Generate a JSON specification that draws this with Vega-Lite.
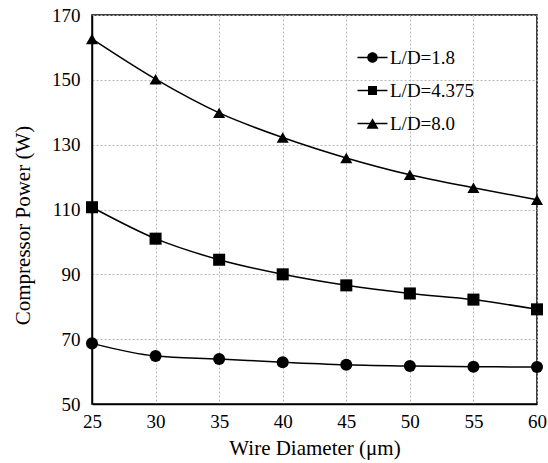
{
  "$schema": "https://vega.github.io/schema/vega-lite/v6.json",
  "width": 445,
  "height": 389,
  "autosize": "none",
  "padding": {"left": 92, "top": 15, "right": 11, "bottom": 59},
  "background": "white",
  "config": {
    "view": {"stroke": "black", "strokeWidth": 1.5},
    "font": "Liberation Serif, DejaVu Serif, serif",
    "axis": {
      "labelFont": "Liberation Serif, DejaVu Serif, serif",
      "titleFont": "Liberation Serif, DejaVu Serif, serif",
      "labelFontSize": 19,
      "titleFontSize": 21,
      "titleFontWeight": "normal",
      "labelColor": "black",
      "titleColor": "black",
      "domainColor": "black",
      "domainWidth": 1.5,
      "ticks": false,
      "labelFlush": false,
      "gridColor": "#b8b8b8",
      "gridDash": [2, 2],
      "gridWidth": 1
    },
    "legend": {
      "labelFont": "Liberation Serif, DejaVu Serif, serif",
      "labelFontSize": 19,
      "labelColor": "black"
    }
  },
  "data": {
    "values": [
      {"d": 25, "p": 68.7, "s": "L/D=1.8"},
      {"d": 30, "p": 64.8, "s": "L/D=1.8"},
      {"d": 35, "p": 63.9, "s": "L/D=1.8"},
      {"d": 40, "p": 62.9, "s": "L/D=1.8"},
      {"d": 45, "p": 62.1, "s": "L/D=1.8"},
      {"d": 50, "p": 61.7, "s": "L/D=1.8"},
      {"d": 55, "p": 61.5, "s": "L/D=1.8"},
      {"d": 60, "p": 61.4, "s": "L/D=1.8"},
      {"d": 25, "p": 110.7, "s": "L/D=4.375"},
      {"d": 30, "p": 101.0, "s": "L/D=4.375"},
      {"d": 35, "p": 94.5, "s": "L/D=4.375"},
      {"d": 40, "p": 90.0, "s": "L/D=4.375"},
      {"d": 45, "p": 86.6, "s": "L/D=4.375"},
      {"d": 50, "p": 84.1, "s": "L/D=4.375"},
      {"d": 55, "p": 82.2, "s": "L/D=4.375"},
      {"d": 60, "p": 79.2, "s": "L/D=4.375"},
      {"d": 25, "p": 162.6, "s": "L/D=8.0"},
      {"d": 30, "p": 150.2, "s": "L/D=8.0"},
      {"d": 35, "p": 139.8, "s": "L/D=8.0"},
      {"d": 40, "p": 132.2, "s": "L/D=8.0"},
      {"d": 45, "p": 125.9, "s": "L/D=8.0"},
      {"d": 50, "p": 120.7, "s": "L/D=8.0"},
      {"d": 55, "p": 116.7, "s": "L/D=8.0"},
      {"d": 60, "p": 113.0, "s": "L/D=8.0"}
    ]
  },
  "encoding": {
    "x": {
      "field": "d",
      "type": "quantitative",
      "scale": {"domain": [25, 60], "nice": false, "zero": false},
      "axis": {
        "values": [25, 30, 35, 40, 45, 50, 55, 60],
        "title": "Wire Diameter (μm)",
        "labelBaseline": "alphabetic",
        "labelPadding": 23,
        "titleBaseline": "alphabetic",
        "titleY": 50
      }
    },
    "y": {
      "field": "p",
      "type": "quantitative",
      "scale": {"domain": [50, 170], "nice": false, "zero": false},
      "axis": {
        "values": [50, 70, 90, 110, 130, 150, 170],
        "title": "Compressor Power (W)",
        "labelPadding": 12,
        "titleBaseline": "middle",
        "titleX": -69,
        "titleY": 210
      }
    }
  },
  "layer": [
    {
      "mark": {"type": "line", "color": "black", "strokeWidth": 1.5, "interpolate": "monotone"},
      "encoding": {"detail": {"field": "s", "type": "nominal"}}
    },
    {
      "mark": {"type": "point", "filled": true, "color": "black", "opacity": 1, "size": 145},
      "encoding": {
        "shape": {
          "field": "s",
          "type": "nominal",
          "scale": {"domain": ["L/D=1.8", "L/D=4.375", "L/D=8.0"], "range": ["circle", "square", "triangle-up"]},
          "legend": null
        }
      }
    },
    {
      "transform": [{"filter": "false"}],
      "mark": {"type": "point", "filled": true, "color": "black", "opacity": 1},
      "encoding": {
        "shape": {
          "field": "s",
          "type": "nominal",
          "scale": {
            "domain": ["L/D=1.8", "L/D=4.375", "L/D=8.0"],
            "range": [
              "M-3,-0.16H3V0.16H-3ZM1.05,0A1.05,1.05,0,1,1,-1.05,0A1.05,1.05,0,1,1,1.05,0Z",
              "M-3,-0.16H3V0.16H-3ZM-0.9,-0.9H0.9V0.9H-0.9Z",
              "M-3,-0.16H3V0.16H-3ZM0,-1.04L1.2,1.04L-1.2,1.04Z"
            ]
          },
          "legend": {
            "title": null,
            "orient": "none",
            "legendX": 271,
            "legendY": 33,
            "symbolSize": 100,
            "symbolOpacity": 1,
            "labelOffset": 8,
            "labelFont": "Liberation Serif, DejaVu Serif, serif",
            "labelFontSize": 19,
            "labelColor": "black",
            "rowPadding": 13,
            "padding": 0
          }
        }
      }
    }
  ],
  "resolve": {"scale": {"shape": "independent"}, "legend": {"shape": "independent"}}
}
